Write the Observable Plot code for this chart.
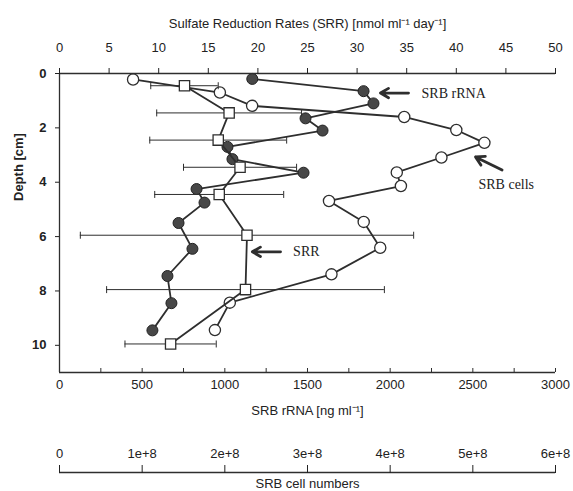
<!DOCTYPE html>
<html><head><meta charset="utf-8">
<script src="https://cdn.jsdelivr.net/npm/d3@7"></script>
<script src="https://cdn.jsdelivr.net/npm/@observablehq/plot@0.6"></script>
<style>
body{margin:0;background:#fff;}
#chart{position:relative;width:573px;height:491px;background:#fff;}
#chart svg{position:absolute;left:0;top:0;}
</style></head><body><div id="chart"></div>
<script>
// SRB rRNA (filled circles) [ng ml-1]
const rrnaDepth = [0.2, 0.65, 1.1, 1.65, 2.1, 2.7, 3.15, 3.65, 4.25, 4.75, 5.5, 6.45, 7.45, 8.45, 9.45];
const rrnaValue = [1166, 1839, 1899, 1488, 1591, 1016, 1046, 1476, 829, 877, 720, 804, 653, 677, 562];
// SRB cell numbers (open circles)
const cellDepth = [0.22, 0.7, 1.19, 1.6, 2.08, 2.55, 3.09, 3.64, 4.14, 4.69, 5.46, 6.41, 7.39, 8.43, 9.44];
const cellValue = [0.89e8, 1.94e8, 2.33e8, 4.17e8, 4.80e8, 5.14e8, 4.62e8, 4.08e8, 4.13e8, 3.26e8, 3.68e8, 3.88e8, 3.29e8, 2.06e8, 1.88e8];
// Sulfate reduction rates (open squares) with error
const srrDepth = [0.45, 1.45, 2.45, 3.45, 4.45, 5.95, 7.95, 9.95];
const srrValue = [12.6, 17.1, 16.0, 18.2, 16.1, 18.9, 18.75, 11.2];
const srrError = [3.4, 7.3, 6.9, 5.7, 6.5, 16.8, 14.0, 4.6];
// axes
const depthTicks = [0, 2, 4, 6, 8, 10];
const srrTicks = [0, 5, 10, 15, 20, 25, 30, 35, 40, 45, 50];
const rrnaTicks = [0, 500, 1000, 1500, 2000, 2500, 3000];
const rrnaMinorTicks = [0, 250, 500, 750, 1000, 1250, 1500, 1750, 2000, 2250, 2500, 2750, 3000];
const cellTicks = [0, 1e8, 2e8, 3e8, 4e8, 5e8, 6e8];
const cellTickLabels = ["0", "1e+8", "2e+8", "3e+8", "4e+8", "5e+8", "6e+8"];
const depthMax = 11;

const rrna = rrnaDepth.map((d, i) => ({depth: d, value: rrnaValue[i]}));
const cells = cellDepth.map((d, i) => ({depth: d, value: cellValue[i]}));
const srr = srrDepth.map((d, i) => ({depth: d, value: srrValue[i], lo: srrValue[i] - srrError[i], hi: srrValue[i] + srrError[i]}));

const W = 573, H = 491, ML = 59, MR = 18, MT = 73, MB = 119;
const ink = "#2e2e2e";
const sans = "'Liberation Sans', Arial, sans-serif";
const serif = "'Liberation Serif', 'Times New Roman', serif";
const style = {fontFamily: sans, fontSize: "13px", color: "#222", background: "transparent", overflow: "visible"};
const base = {width: W, height: H, marginLeft: ML, marginRight: MR, marginTop: MT, marginBottom: MB, style};
const yDepth = {domain: [0, depthMax], reverse: true, axis: null};

const cap = {draw(ctx, size) { const h = Math.sqrt(size / Math.PI); ctx.moveTo(0, -h); ctx.lineTo(0, h); }};

const notes = [
  {label: "SRB rRNA", x1: 2111, y1: 0.72, x2: 1941, y2: 0.72, tx: 2190, ty: 0.72},
  {label: "SRB cells", x1: 2677, y1: 3.55, x2: 2516, y2: 3.07, tx: 2534, ty: 4.07},
  {label: "SRR", x1: 1337, y1: 6.56, x2: 1166, y2: 6.56, tx: 1413, ty: 6.56}
];

// rRNA plot with depth axis + bottom axis
const A = Plot.plot({
  ...base,
  x: {domain: [0, 3000], axis: null},
  y: yDepth,
  marks: [
    Plot.ruleX([0], {stroke: ink, strokeWidth: 1.3}),
    Plot.ruleY([depthMax], {stroke: ink, strokeWidth: 1.3}),
    Plot.ruleX(rrnaMinorTicks, {stroke: ink, insetTop: (H - MT - MB) - 4}),
    Plot.axisX({anchor: "bottom", ticks: rrnaTicks, tickSize: 0, tickPadding: 7, tickFormat: d => String(d),
      label: "SRB rRNA [ng ml⁻¹]", labelAnchor: "center", labelArrow: "none", labelOffset: 42}),
    Plot.axisY({anchor: "left", ticks: depthTicks, tickSize: 4, tickPadding: 9, label: null, fontWeight: "bold"}),
    Plot.text(["Depth [cm]"], {frameAnchor: "left", dx: -41, dy: -22, rotate: -90, fontWeight: "bold", fontSize: 13}),
    Plot.line(rrna, {x: "value", y: "depth", stroke: ink, strokeWidth: 1.8}),
    Plot.dot(rrna, {x: "value", y: "depth", r: 5.5, fill: "#474747", stroke: "#222", strokeWidth: 1}),
    Plot.arrow(notes, {x1: "x1", y1: "y1", x2: "x2", y2: "y2", stroke: ink, strokeWidth: 2.8, headLength: 7, headAngle: 60}),
    Plot.text(notes, {x: "tx", y: "ty", text: "label", textAnchor: "start", fontFamily: serif, fontSize: 14, fill: "#222"})
  ]
});

// Cell numbers series
const C = Plot.plot({
  ...base,
  x: {domain: [0, 6e8], axis: null},
  y: yDepth,
  marks: [
    Plot.line(cells, {x: "value", y: "depth", stroke: ink, strokeWidth: 1.8}),
    Plot.dot(cells, {x: "value", y: "depth", r: 5.6, fill: "white", stroke: ink, strokeWidth: 1.3})
  ]
});

// SRR series with top axis
const B = Plot.plot({
  ...base,
  x: {domain: [0, 50], axis: null},
  y: yDepth,
  marks: [
    Plot.ruleY([0], {stroke: ink, strokeWidth: 1.3}),
    Plot.axisX({anchor: "top", ticks: srrTicks, tickSize: 6, tickPadding: 16,
      label: "Sulfate Reduction Rates (SRR) [nmol ml⁻¹ day⁻¹]", labelAnchor: "center", labelArrow: "none", labelOffset: 55}),
    Plot.ruleY(srr, {y: "depth", x1: "lo", x2: "hi", stroke: ink, strokeWidth: 1}),
    Plot.dot(srr, {x: "lo", y: "depth", symbol: cap, r: 3.5, stroke: ink, strokeWidth: 1}),
    Plot.dot(srr, {x: "hi", y: "depth", symbol: cap, r: 3.5, stroke: ink, strokeWidth: 1}),
    Plot.line(srr, {x: "value", y: "depth", stroke: ink, strokeWidth: 1.8}),
    Plot.dot(srr, {x: "value", y: "depth", symbol: "square", r: 5.8, fill: "white", stroke: ink, strokeWidth: 1.3})
  ]
});

// Cell numbers axis (separate, below)
const D = Plot.plot({
  width: W, height: H, marginLeft: ML, marginRight: MR, marginTop: 472, marginBottom: 0, style,
  x: {domain: [0, 6e8], axis: null},
  y: {domain: [0, 1], axis: null},
  marks: [
    Plot.ruleY([1], {stroke: ink, strokeWidth: 1.3}),
    Plot.axisX({anchor: "top", ticks: cellTicks, tickSize: 8, tickPadding: 7,
      tickFormat: d => cellTickLabels[cellTicks.indexOf(d)], label: null}),
    Plot.text(["SRB cell numbers"], {frameAnchor: "middle", dy: 2, fontSize: 13})
  ]
});

const chart = document.getElementById("chart");
[A, C, B, D].forEach(p => chart.appendChild(p));
</script>
</body></html>
